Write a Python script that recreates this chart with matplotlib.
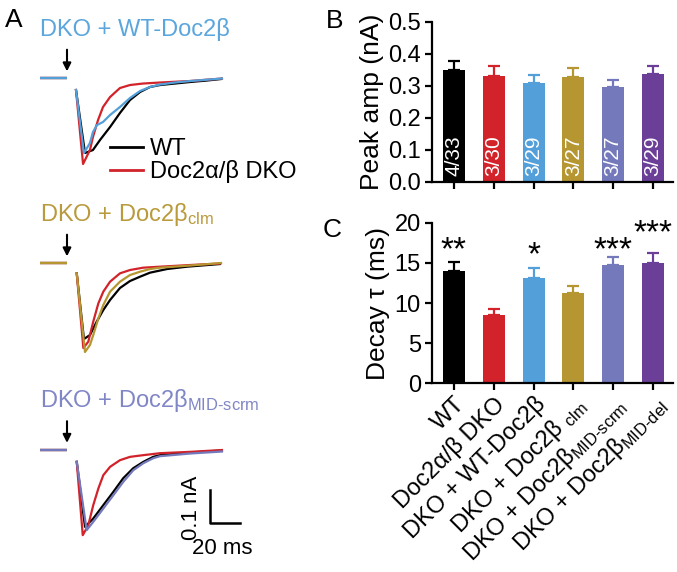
import matplotlib
matplotlib.use("Agg")
import matplotlib.pyplot as plt
from matplotlib.lines import Line2D
import numpy as np

plt.rcParams["font.family"] = ["Liberation Sans", "DejaVu Sans"]
plt.rcParams["mathtext.fontset"] = "custom"
plt.rcParams["mathtext.rm"] = "Liberation Sans"
plt.rcParams["mathtext.it"] = "Liberation Sans:italic"
plt.rcParams["mathtext.bf"] = "Liberation Sans:bold"

# ── data ──────────────────────────────────────────────────────────────────────
groups = ["WT", "Doc2α/β DKO", "DKO + WT-Doc2β",
          "DKO + Doc2β $_\\mathregular{clm}$",
          "DKO + Doc2β$_\\mathregular{MID‐scrm}$",
          "DKO + Doc2β$_\\mathregular{MID‐del}$"]
colors = ["#000000", "#d2232a", "#529fda", "#b59631", "#7479bc", "#6b3f98"]
counts = ["4/33", "3/30", "3/29", "3/27", "3/27", "3/29"]

peak_mean = [0.349, 0.331, 0.309, 0.328, 0.297, 0.336]
peak_sem = [0.029, 0.032, 0.024, 0.029, 0.022, 0.027]

decay_mean = [14.0, 8.5, 13.1, 11.3, 14.7, 15.0]
decay_sem = [1.1, 0.7, 1.3, 0.8, 1.1, 1.2]
stars = ["**", "", "*", "", "***", "***"]
star_y = [15.5, 0, 14.8, 0, 15.5, 17.6]

# example EPSC traces (time in ms from stimulus, current in nA)
base_t = [-18, 0]
base_i = [0, 0]

t1_wt = [6, 12, 17.3, 22, 28.7, 35.3, 42, 48.7, 55.3, 62, 72, 82, 93.3, 102.7]
i1_wt = [-0.036, -0.225, -0.216, -0.186, -0.147, -0.105, -0.066, -0.042,
         -0.027, -0.021, -0.0165, -0.012, -0.0075, -0.003]
t1_dko = [6, 10.7, 15.3, 17.3, 20.7, 24, 28.7, 35.3, 42, 50.7, 62, 82, 103.3]
i1_dko = [-0.036, -0.258, -0.216, -0.177, -0.126, -0.087, -0.057, -0.030,
          -0.021, -0.0165, -0.0135, -0.009, -0.0015]
t1_res = [6, 11.3, 15.3, 17.3, 20, 24, 28.7, 35.3, 42, 48.7, 55.3, 62, 72, 82, 103.3]
i1_res = [-0.036, -0.225, -0.195, -0.162, -0.141, -0.132, -0.111, -0.087,
          -0.060, -0.039, -0.027, -0.0195, -0.0135, -0.009, -0.0015]

t2_wt = [6.5, 11.3, 15.3, 19.8, 24.2, 28.7, 35.3, 42, 48.7, 55.3, 66.7, 80, 102]
i2_wt = [-0.031, -0.228, -0.216, -0.176, -0.141, -0.111, -0.075, -0.054,
         -0.041, -0.029, -0.018, -0.011, -0.003]
t2_dko = [6.5, 10.9, 14.2, 17.5, 20.9, 24.2, 28.7, 35.3, 42, 50.7, 62, 82, 102]
i2_dko = [-0.031, -0.255, -0.236, -0.176, -0.121, -0.086, -0.056, -0.031,
          -0.021, -0.014, -0.011, -0.006, -0.0015]
t2_res = [6.5, 12, 15.3, 17.5, 20.9, 24.2, 28.7, 35.3, 42, 48.7, 55.3, 62, 82, 102.7]
i2_res = [-0.031, -0.267, -0.246, -0.216, -0.166, -0.126, -0.086, -0.056,
          -0.036, -0.026, -0.018, -0.014, -0.0075, 0.0]

t3_wt = [6.5, 12, 17.5, 24.2, 30.9, 37.5, 44.2, 50.9, 57.5, 62, 82, 103.3]
i3_wt = [-0.037, -0.232, -0.207, -0.167, -0.127, -0.086, -0.056, -0.037,
         -0.022, -0.017, -0.009, -0.003]
t3_dko = [6.5, 10.5, 14.2, 17.5, 20.9, 24.2, 28.7, 35.3, 42, 50.7, 62, 82, 103.3]
i3_dko = [-0.037, -0.257, -0.227, -0.167, -0.117, -0.077, -0.052, -0.032,
          -0.022, -0.017, -0.011, -0.007, -0.0015]
t3_res = [6.5, 13.1, 17.5, 24.2, 30.9, 37.5, 44.2, 50.9, 57.5, 62, 82, 103.3]
i3_res = [-0.037, -0.242, -0.217, -0.177, -0.137, -0.097, -0.062, -0.041,
          -0.026, -0.020, -0.012, -0.006]

# ── layout helpers ────────────────────────────────────────────────────────────
W, H = 677, 572
fig = plt.figure(figsize=(W / 100, H / 100), dpi=100)


def px_axes(left, top, width, height):
    return fig.add_axes([left / W, 1 - (top + height) / H, width / W, height / H])


FS = 17

# ── Panel A: traces ──────────────────────────────────────────────────────────
trace_sets = [
    (78, "DKO + WT-Doc2β", colors[2], "#5aa6dd",
     (t1_wt, i1_wt), (t1_dko, i1_dko), (t1_res, i1_res)),
    (263, "DKO + Doc2β$_\\mathregular{clm}$", colors[3], "#b99a3c",
     (t2_wt, i2_wt), (t2_dko, i2_dko), (t2_res, i2_res)),
    (449.5, "DKO + Doc2β$_\\mathregular{MID‐scrm}$", colors[4], "#8086c6",
     (t3_wt, i3_wt), (t3_dko, i3_dko), (t3_res, i3_res)),
]

trace_axes = []
for base_px, title, col, tcol, wt, dko, res in trace_sets:
    ax = px_axes(37, base_px - 33.3, 210, 133.3)
    ax.set_xlim(-20, 120)
    ax.set_ylim(-0.3, 0.1)
    ax.axis("off")
    for c in ["k", colors[1], col]:
        ax.plot(base_t, base_i, color=c, lw=1.6, solid_capstyle="butt")
    ax.plot(*wt, color="k", lw=1.6)
    ax.plot(*dko, color=colors[1], lw=1.6)
    ax.plot(*res, color=col, lw=1.6)
    ax.annotate("", xy=(0, 0.02), xytext=(0, 0.085),
                arrowprops=dict(arrowstyle="-|>", color="k", lw=1.5,
                                mutation_scale=12, shrinkA=0, shrinkB=0))
    ax.text(-18, 0.127, title, color=tcol, fontsize=FS, va="baseline",
            ha="left", clip_on=False)
    trace_axes.append(ax)

leg_handles = [Line2D([], [], color="k", lw=2), Line2D([], [], color=colors[1], lw=2)]
trace_axes[0].legend(leg_handles, ["WT", "Doc2α/β DKO"], loc="upper left",
                     bbox_to_anchor=(110 / W, 1 - 138 / H),
                     bbox_transform=fig.transFigure, frameon=False,
                     fontsize=FS, handlelength=1.4, handletextpad=0.3,
                     labelspacing=0.0, borderpad=0, borderaxespad=0)

# scale bar
ax3 = trace_axes[2]
ax3.plot([95.3, 95.3, 115.3], [-0.121, -0.221, -0.221], color="k", lw=1.8,
         clip_on=False)
ax3.text(83, -0.176, "0.1 nA", rotation=90, fontsize=16, ha="center",
         va="center", clip_on=False)
ax3.text(103.5, -0.296, "20 ms", fontsize=16, ha="center", va="center",
         clip_on=False)


# ── Panels B and C: bars ─────────────────────────────────────────────────────
def style_bar_axes(ax):
    for s in ["top", "right"]:
        ax.spines[s].set_visible(False)
    for s in ["left", "bottom"]:
        ax.spines[s].set_linewidth(1.6)
    ax.tick_params(axis="both", width=1.6, length=5, labelsize=17, pad=3)
    ax.set_xlim(-0.55, 5.5)


x = np.arange(len(groups))

axB = px_axes(432, 22, 241, 160)
axB.bar(x, peak_mean, width=0.55, color=colors)
for xi, m, e, c in zip(x, peak_mean, peak_sem, colors):
    axB.errorbar(xi, m, yerr=[[0], [e]], color=c, lw=1.6, capsize=4.5,
                 capthick=1.6)
for xi, n in zip(x, counts):
    axB.text(xi, 0.02, n, rotation=90, color="white", fontsize=15,
             ha="center", va="bottom")
axB.set_ylim(0, 0.5)
axB.set_yticks([0.0, 0.1, 0.2, 0.3, 0.4, 0.5])
axB.set_yticklabels(["0.0", "0.1", "0.2", "0.3", "0.4", "0.5"])
axB.set_xticks(x)
axB.set_xticklabels([])
axB.set_ylabel("Peak amp (nA)", fontsize=19, labelpad=3)
style_bar_axes(axB)

axC = px_axes(432, 223, 241, 160)
axC.bar(x, decay_mean, width=0.55, color=colors)
for xi, m, e, c in zip(x, decay_mean, decay_sem, colors):
    axC.errorbar(xi, m, yerr=[[0], [e]], color=c, lw=1.6, capsize=4.5,
                 capthick=1.6)
for xi, s, sy in zip(x, stars, star_y):
    if s:
        axC.text(xi, sy, s, fontsize=24, ha="center", va="baseline")
axC.set_ylim(0, 20)
axC.set_yticks([0, 5, 10, 15, 20])
axC.set_xticks(x)
axC.set_xticklabels(groups, rotation=45, ha="right", rotation_mode="anchor")
style_bar_axes(axC)
axC.tick_params(axis="x", labelsize=17, pad=2)
axC.set_ylabel("Decay τ (ms)", fontsize=19, labelpad=3)

# panel letters
fig.text(5 / W, 1 - 27 / H, "A", fontsize=19, va="baseline")
fig.text(326 / W, 1 - 28 / H, "B", fontsize=19, va="baseline")
fig.text(323 / W, 1 - 237 / H, "C", fontsize=19, va="baseline")

fig.savefig("out.png", dpi=100)
